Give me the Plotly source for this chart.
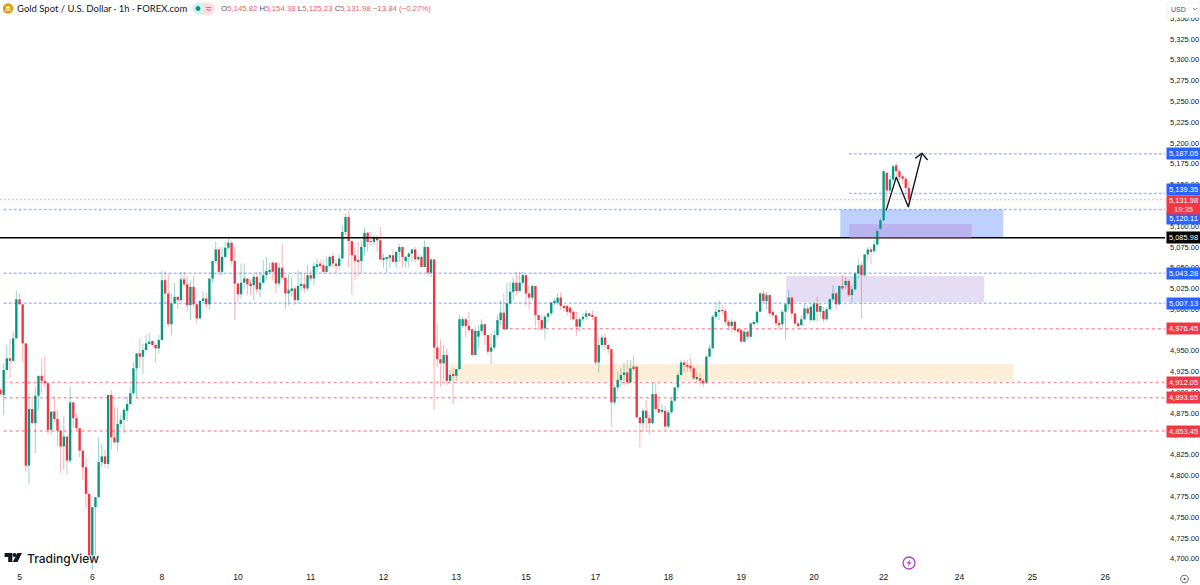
import plotly.graph_objects as go

# Hourly XAU/USD candles, oldest first
opens = [
    4903,4897,4927,4941,4938,4965,5012,5006,4959,4812,
    4880,4863,4896,4920,4914,4911,4855,4877,4868,4854,
    4835,4847,4818,4888,4869,4857,4830,4810,4778,4704,
    4762,4774,4816,4823,4814,4897,4846,4840,4862,4867,
    4878,4886,4899,4929,4947,4943,4951,4959,4962,4957,
    4953,4963,5035,5019,4982,5007,5015,5011,5036,5030,
    5005,5027,5006,4989,5010,5013,5006,5037,5058,5072,
    5045,5063,5074,5080,5058,5031,5018,5032,5037,5031,
    5029,5039,5024,5032,5041,5046,5056,5056,5031,5050,
    5038,5019,5023,5025,5011,5028,5030,5025,5041,5037,
    5052,5055,5053,5045,5052,5064,5055,5052,5061,5093,
    5111,5082,5065,5059,5058,5075,5092,5082,5081,5087,
    5083,5060,5061,5062,5065,5057,5069,5075,5058,5063,
    5067,5072,5060,5063,5051,5075,5044,5060,4954,4940,
    4935,4945,4914,4921,4920,4928,4980,4988,4980,4976,
    4945,4967,4974,4982,4969,4949,4954,4969,4987,4996,
    4976,5007,5021,5032,5022,5032,5041,5019,5014,5028,
    4993,4987,4977,4991,4995,5008,5008,5014,5004,5004,
    5002,4997,4988,4979,4988,4991,4995,4993,4991,4936,
    4957,4966,4957,4952,4888,4906,4915,4921,4924,4912,
    4931,4931,4870,4863,4878,4869,4863,4898,4880,4877,
    4878,4859,4876,4890,4906,4921,4936,4933,4932,4929,
    4917,4917,4914,4912,4943,4953,4991,4997,4999,4998,
    4985,4980,4985,4976,4975,4961,4973,4967,4983,4984,
    4997,5019,5010,5017,4997,4993,4983,4982,4997,5006,
    5014,4995,4983,4981,4988,5001,4987,4987,5007,4997,
    4998,4988,5000,5012,5019,5006,5028,5029,5034,5017,
    5024,5043,5053,5041,5066,5072,5070,5078,5097,5107,
    5164,5143,5156,5173,5166,5160,5157,5145.82,
]
highs = [
    4905,4935,4957,4965,4973,5023,5019,5006,4959,4899,
    4895,4907,4920,4941,4944,4911,4877,4895,4879,4854,
    4871,4847,4907,4888,4875,4857,4830,4822,4778,4762,
    4774,4846,4838,4831,4897,4903,4882,4882,4873,4881,
    4895,4907,4936,4947,4965,4959,4969,4971,4962,4959,
    4969,5046,5046,5043,5019,5032,5015,5045,5045,5040,
    5035,5040,5006,5011,5022,5020,5037,5058,5081,5075,
    5075,5081,5086,5082,5075,5031,5055,5055,5037,5036,
    5042,5045,5045,5059,5063,5056,5058,5056,5056,5078,
    5038,5042,5039,5028,5047,5045,5043,5053,5047,5057,
    5061,5060,5059,5063,5065,5068,5061,5066,5101,5115,
    5118,5082,5075,5081,5083,5098,5093,5093,5089,5089,
    5099,5067,5062,5066,5073,5070,5078,5075,5064,5069,
    5073,5075,5065,5065,5083,5075,5061,5060,4982,4963,
    4957,4953,4927,4929,4928,4993,4991,4991,4997,4976,
    4979,4981,4988,4982,4969,4972,4975,4993,5011,5019,
    5031,5033,5038,5045,5045,5045,5042,5029,5030,5028,
    4993,4993,4993,4997,5009,5013,5019,5021,5005,5005,
    5003,4999,4997,4991,4995,4999,4996,4999,4991,4966,
    4970,4971,4959,4952,4909,4925,4929,4936,4939,4939,
    4944,4931,4870,4881,4891,4873,4912,4912,4893,4886,
    4884,4879,4893,4906,4924,4939,4939,4939,4941,4932,
    4925,4923,4916,4945,4957,4993,5007,5011,5005,5001,
    4987,4989,4987,4977,4975,4975,4975,4984,4987,4999,
    5021,5023,5021,5019,4997,4993,4987,4999,5007,5023,
    5014,4995,4985,4993,5007,5005,5007,5009,5015,5007,
    5003,5003,5013,5029,5021,5029,5042,5039,5036,5029,
    5045,5060,5057,5066,5075,5075,5083,5097,5109,5168,
    5166,5161,5174,5176,5168,5162,5160,5154.38,
]
lows = [
    4896,4873,4927,4917,4938,4965,5005,4937,4804,4790,
    4863,4827,4879,4899,4907,4849,4849,4863,4835,4803,
    4807,4801,4815,4858,4855,4822,4795,4761,4704,4686,
    4704,4774,4810,4809,4808,4831,4839,4829,4858,4851,
    4865,4885,4897,4894,4929,4922,4951,4959,4955,4936,
    4947,4963,5007,4979,4969,5007,5000,5009,5027,4998,
    4987,5001,4983,4989,5007,5001,4999,5032,5055,5041,
    5041,5062,5071,5053,4987,5008,5013,5024,5017,5017,
    5011,5019,5014,5030,5035,5043,5035,5019,5027,5035,
    5000,5005,5015,5005,5007,5022,5020,5022,5033,5029,
    5044,5049,5044,5044,5050,5050,5044,5047,5061,5089,
    5050,5018,5035,5039,5044,5065,5069,5076,5077,5069,
    5059,5050,5044,5050,5057,5050,5057,5050,5050,5050,
    5057,5057,5059,5050,5051,5041,5039,4879,4930,4907,
    4915,4909,4911,4886,4914,4927,4978,4966,4972,4945,
    4944,4953,4971,4957,4945,4934,4951,4966,4981,4976,
    4975,5005,5011,5017,5021,5029,5004,4999,5011,4979,
    4975,4975,4964,4985,4993,5005,5005,4999,4997,4992,
    4987,4987,4968,4973,4985,4987,4991,4987,4933,4924,
    4953,4951,4947,4859,4885,4901,4909,4909,4909,4911,
    4927,4870,4834,4852,4855,4850,4862,4877,4874,4874,
    4855,4857,4874,4888,4901,4920,4924,4925,4925,4915,
    4912,4909,4907,4910,4942,4952,4988,4987,4993,4981,
    4975,4972,4972,4970,4961,4960,4963,4966,4980,4984,
    4996,5007,4999,4992,4989,4979,4975,4977,4964,4999,
    4989,4980,4975,4979,4987,4992,4985,4985,4985,4990,
    4985,4986,4998,5010,4999,5005,5023,5024,5015,5007,
    5023,5037,4989,5039,5059,5054,5067,5076,5095,5106,
    5128,5141,5154,5159,5155,5151,5137,5125.23,
]
closes = [
    4898,4927,4941,4938,4965,5012,5006,4959,4812,4880,
    4863,4896,4920,4914,4911,4855,4877,4868,4854,4835,
    4847,4818,4888,4869,4857,4830,4810,4778,4704,4762,
    4774,4816,4823,4814,4897,4846,4840,4862,4867,4879,
    4886,4899,4929,4947,4943,4951,4959,4961,4957,4953,
    4963,5035,5019,4982,5007,5015,5011,5036,5030,5005,
    5027,5006,4989,5010,5013,5006,5037,5058,5072,5045,
    5063,5074,5080,5058,5031,5018,5032,5037,5030,5029,
    5039,5024,5032,5041,5046,5047,5045,5031,5050,5038,
    5019,5023,5025,5011,5028,5030,5025,5041,5037,5052,
    5054,5053,5045,5052,5063,5055,5052,5061,5093,5111,
    5082,5065,5058,5058,5075,5092,5081,5081,5087,5083,
    5060,5061,5062,5065,5057,5069,5075,5063,5063,5067,
    5072,5060,5063,5051,5075,5044,5060,4954,4940,4935,
    4945,4914,4921,4920,4928,4988,4988,4980,4975,4945,
    4974,4974,4982,4969,4949,4954,4969,4987,4996,4976,
    5007,5021,5032,5022,5032,5041,5019,5014,5028,4993,
    4987,4977,4991,4995,5008,5009,5014,5004,5002,4997,
    4996,4988,4979,4988,4991,4995,4993,4991,4936,4957,
    4966,4957,4952,4888,4906,4915,4921,4924,4912,4929,
    4929,4870,4863,4878,4869,4863,4898,4880,4876,4878,
    4859,4876,4890,4906,4921,4936,4933,4931,4929,4917,
    4918,4914,4911,4943,4953,4991,4997,4999,4998,4985,
    4980,4985,4975,4973,4961,4973,4967,4983,4984,4997,
    5019,5010,5017,4995,4993,4983,4982,4997,5006,5014,
    4995,4983,4981,4988,5001,4995,5003,5007,4997,5004,
    4988,5000,5012,5019,5006,5028,5025,5034,5017,5024,
    5043,5053,5041,5066,5072,5070,5078,5094,5107,5166,
    5143,5156,5172,5166,5159,5157,5146,5131.98,
]

# Calendar labels along the bar index
day_ticks = [6, 29, 51, 75, 98, 121, 144, 166, 188, 211, 234, 257, 279, 303, 326, 349]
day_labels = ["5", "6", "8", "10", "11", "12", "13", "15", "17", "18", "19", "20", "22", "24", "25", "26"]
price_ticks = list(range(4700, 5351, 25))

# Drawn price levels: value, tag colour, first bar of the line, vertical nudge of the tag
blue_levels = [5187.05, 5139.35, 5120.11, 5043.28, 5007.13]
blue_starts = [268, 268, 1, 1, 1]
blue_shifts = [0, 4, -9, 0, 0]
red_levels = [4976.45, 4912.05, 4893.65, 4853.45]
red_starts = [159, 1, 1, 1]
last_price = 5131.98
key_level = 5085.98

# Zones: first bar, last bar, low price, high price
zone_blue = (265.3, 316.8, 5087, 5120.11)
zone_violet = (268.1, 306.8, 5085.98, 5102.7)
zone_lilac = (248.2, 310.8, 5008.8, 5040)
zone_sand = (141.8, 319.9, 4914, 4934)

# Projected path sketched after the last candle
path_bars = [279.8, 283, 286.8, 291.1]
path_prices = [5119, 5159, 5123, 5187.6]
head_bars = [289.0, 291.1, 292.9]
head_prices = [5181.5, 5187.6, 5179.5]

GREEN, RED, BLUE = "#089981", "#f23645", "#2962ff"
INK = "#131722"
PANE_W, PANE_H = 1165, 570
BAR_RANGE = [-0.16, 367.9]
PRICE_RANGE = [4686.4, 5372.0]
TICK_FONT = "Liberation Sans"

idx = list(range(len(opens)))
up = [i for i in idx if closes[i] >= opens[i]]
dn = [i for i in idx if closes[i] < opens[i]]


def wicks(members, color):
    xs, ys = [], []
    for i in members:
        xs += [i, i, None]
        ys += [lows[i], highs[i], None]
    return go.Scatter(x=xs, y=ys, mode="lines", line=dict(color=color, width=1),
                      hoverinfo="skip", showlegend=False)


def bodies(members, color):
    return go.Bar(x=members,
                  base=[min(opens[i], closes[i]) for i in members],
                  y=[abs(closes[i] - opens[i]) for i in members],
                  width=0.75, marker=dict(color=color, line=dict(width=0)),
                  hoverinfo="skip", showlegend=False)


fig = go.Figure()
fig.add_trace(wicks(up, "rgba(8,153,129,0.42)"))
fig.add_trace(wicks(dn, "rgba(242,54,69,0.38)"))
fig.add_trace(bodies(up, GREEN))
fig.add_trace(bodies(dn, RED))
fig.add_trace(go.Scatter(x=path_bars, y=path_prices, mode="lines",
                         line=dict(color="#131722", width=1.4), hoverinfo="skip", showlegend=False))
fig.add_trace(go.Scatter(x=head_bars, y=head_prices, mode="lines",
                         line=dict(color="#131722", width=1.4), hoverinfo="skip", showlegend=False))

shapes = []
annotations = []


def zone(z, color):
    shapes.append(dict(type="rect", xref="x", yref="y", x0=z[0], x1=z[1], y0=z[2], y1=z[3],
                       fillcolor=color, line=dict(width=0), layer="below"))


zone(zone_sand, "#fdeed7")
zone(zone_lilac, "rgba(126,87,194,0.2)")
zone(zone_blue, "rgba(41,98,255,0.3)")
zone(zone_violet, "rgba(170,90,190,0.25)")


def level(price, start, color, dash="3px,2px", width=1.5):
    shapes.append(dict(type="line", xref="x", yref="y", x0=start, x1=BAR_RANGE[1], y0=price, y1=price,
                       line=dict(color=color, width=width, dash=dash), layer="above"))


for p, s in zip(blue_levels, blue_starts):
    level(p, s, "rgba(41,98,255,0.42)")
for p, s in zip(red_levels, red_starts):
    level(p, s, "rgba(242,54,69,0.5)", dash="3px,3px")
level(last_price, BAR_RANGE[0], "rgba(242,54,69,0.3)", dash="2px,2px")
level(key_level, BAR_RANGE[0], "#000000", dash="solid", width=1.4)
shapes.append(dict(type="line", xref="x", yref="y", x0=zone_violet[0], x1=zone_violet[1],
                   y0=key_level, y1=key_level, line=dict(color="rgba(150,90,70,0.75)", width=1.4),
                   layer="above"))


def tag(price, text, color, shift=0, h=11):
    annotations.append(dict(xref="paper", yref="y", x=1166 / PANE_W, y=price, xanchor="left",
                            yanchor="middle", yshift=shift, text=text, showarrow=False,
                            width=33, height=h, align="center", bgcolor=color, borderpad=0,
                            font=dict(family=TICK_FONT, size=7.5, color="#ffffff")))


for p, s in zip(blue_levels, blue_shifts):
    tag(p, f"{p:,.2f}", BLUE, s)
for p in red_levels:
    tag(p, f"{p:,.2f}", RED)
tag(key_level, f"{key_level:,.2f}", "#000000")
tag(last_price, f"{last_price:,.2f}<br>19:35", RED, shift=-5, h=18)


def label(px, py, text, size=8, color=INK, anchor="left", family="Liberation Sans", weight=None):
    font = dict(family=family, size=size, color=color)
    if weight:
        font["weight"] = weight
    annotations.append(dict(xref="paper", yref="paper", x=px / PANE_W, y=1 - py / PANE_H,
                            xanchor=anchor, yanchor="middle", text=text, showarrow=False,
                            font=font))


def pixel_path(d, fill=None, line=None, lw=0):
    shapes.append(dict(type="path", xref="paper", yref="paper", xsizemode="pixel", ysizemode="pixel",
                       xanchor=0, yanchor=1, path=d,
                       fillcolor=fill, line=dict(color=line, width=lw), layer="above"))


def poly(points):
    return "M" + " L".join(f"{x},{-y}" for x, y in points) + " Z"


def disc(cx, cy, r):
    k = r * 0.55
    return (f"M{cx - r},{-cy} C{cx - r},{-(cy + k)} {cx - k},{-(cy + r)} {cx},{-(cy + r)} "
            f"C{cx + k},{-(cy + r)} {cx + r},{-(cy + k)} {cx + r},{-cy} "
            f"C{cx + r},{-(cy - k)} {cx + k},{-(cy - r)} {cx},{-(cy - r)} "
            f"C{cx - k},{-(cy - r)} {cx - r},{-(cy - k)} {cx - r},{-cy} Z")


# Header row: symbol badge, status pills and the session's OHLC readout
pixel_path(disc(8, 8.5, 5.2), fill="#e0a00e")
pixel_path(poly([(5, 9.6), (11, 9.6), (11, 10.6), (5, 10.6)]), fill="#ffffff")
pixel_path(poly([(6.5, 6.4), (9.5, 6.4), (10.2, 8.6), (5.8, 8.6)]), fill="#ffffff")
label(14.5, 8.5, "Gold Spot / U.S. Dollar · 1h · FOREX.com", size=9.5, family="Lato")
pixel_path(disc(198, 8.5, 6), fill="#d8f1ec")
pixel_path(disc(209, 8.5, 6), fill="#fcdde0")
pixel_path(poly([(198, 2.5), (204, 2.5), (204, 14.5), (198, 14.5)]), fill="#d8f1ec")
pixel_path(poly([(204, 2.5), (209, 2.5), (209, 14.5), (204, 14.5)]), fill="#fcdde0")
pixel_path(disc(198, 8.5, 2.4), fill=GREEN)
label(208.5, 8.5, "≈", size=10, color=RED, anchor="center")

o_txt, h_txt, l_txt, c_txt = (opens[-1], highs[-1], lows[-1], closes[-1])
chg = c_txt - o_txt
readout = (
    f"<span style='color:#4a4f5c'>O</span>{o_txt:,.2f} "
    f"<span style='color:#4a4f5c'>H</span>{h_txt:,.2f} "
    f"<span style='color:#4a4f5c'>L</span>{l_txt:,.2f} "
    f"<span style='color:#4a4f5c'>C</span>{c_txt:,.2f} "
    f"\u2212{abs(chg):.2f} (\u22120.27%)"
)
label(218.5, 8.5, readout, size=7.8, color="#f4606c")

# Currency selector over the top of the price scale
shapes.append(dict(type="rect", xref="paper", yref="paper", x0=1167 / PANE_W, x1=1199 / PANE_W,
                   y0=1 - 17.5 / PANE_H, y1=1 - 3 / PANE_H, fillcolor="#ffffff",
                   line=dict(color="#eef0f3", width=1), layer="above"))
label(1169, 9, "USD", size=7, color="#4a4f5c")
pixel_path("M1193,-8 L1195,-10 L1197,-8", line="#6a6f7c", lw=0.8)

# Wordmark in the lower-left corner of the pane
pixel_path(poly([(4.6, 553), (12.4, 553), (12.4, 562), (8.2, 562), (8.2, 557), (4.6, 557)]), fill="#131722")
pixel_path(disc(14.6, 555, 2), fill="#131722")
pixel_path(poly([(17.4, 553), (22, 553), (17.5, 562), (12.8, 562)]), fill="#131722")
label(25, 558, "TradingView", size=12, color="#131722", family="Inter", weight=500)

# Alert badge and settings glyph
pixel_path(disc(909, 563, 6), line="#a844c8", lw=1.3)
pixel_path(poly([(910.5, 558.8), (906.8, 563.6), (908.9, 563.6), (907.5, 567.2), (911.3, 562.2), (909.2, 562.2)]),
           fill="#c43fb0")
pixel_path(disc(1184.5, 579, 3.8), line="#4a4f5c", lw=0.9)
pixel_path(disc(1184.5, 579, 1), fill="#4a4f5c")

fig.update_layout(
    width=1200, height=585,
    margin=dict(l=0, r=35, t=0, b=15, autoexpand=False),
    paper_bgcolor="#ffffff", plot_bgcolor="#ffffff",
    barmode="overlay", showlegend=False,
    shapes=shapes, annotations=annotations,
    xaxis=dict(range=BAR_RANGE, tickmode="array", tickvals=day_ticks, ticktext=day_labels,
               showgrid=False, zeroline=False, showline=False, ticks="",
               tickfont=dict(family=TICK_FONT, size=8.5, color=INK), fixedrange=True),
    yaxis=dict(range=PRICE_RANGE, side="right", tickmode="array", tickvals=price_ticks,
               tickformat=",.2f", showgrid=False, zeroline=False, showline=False, ticks="",
               ticklabelstandoff=4,
               tickfont=dict(family=TICK_FONT, size=7.5, color=INK), fixedrange=True),
)

fig.write_html("out.html", config=dict(displayModeBar=False))
